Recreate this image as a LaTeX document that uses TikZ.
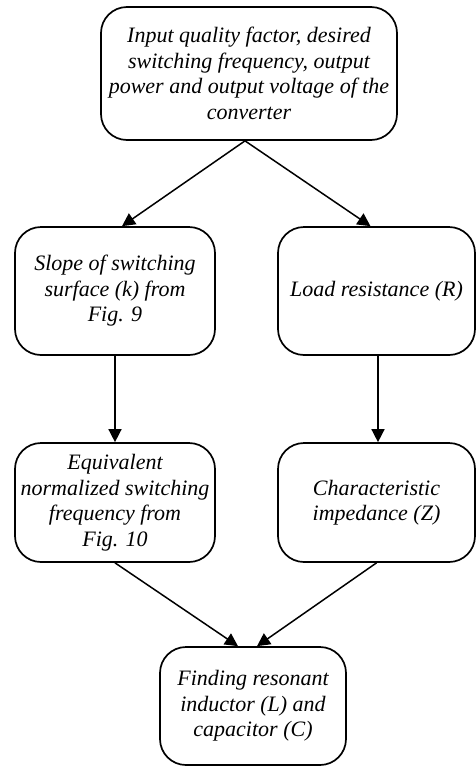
\documentclass[tikz,border=0pt]{standalone}
\usepackage{fontspec}
\setmainfont{Liberation Serif}
\usetikzlibrary{arrows.meta}

\begin{document}
\begin{tikzpicture}[x=1pt,y=1pt,
  box/.style={draw, line width=1.7pt, rounded corners=26pt, align=center,
    inner sep=2pt, font=\fontsize{22}{25.5}\selectfont\itshape},
  arr/.style={-{Triangle[length=13pt,width=13pt]}, line width=1.5pt}]
\useasboundingbox (0,0) rectangle (476,-766);

% boxes
\node[box, minimum width=296, minimum height=133] (input) at (249,-73.5)
  {Input quality factor, desired\\switching frequency, output\\power and output voltage of the\\converter};
\node[box, minimum width=200, minimum height=128] (slope) at (115,-291)
  {Slope of switching\\surface (k) from\\Fig. 9};
\node[box, minimum width=197, minimum height=128] (load) at (376.5,-291)
  {Load resistance (R)};
\node[box, minimum width=200, minimum height=119] (freq) at (115,-502.5)
  {Equivalent\\normalized switching\\frequency from\\Fig. 10};
\node[box, minimum width=197, minimum height=119] (imped) at (376.5,-502.5)
  {Characteristic\\impedance (Z)};
\node[box, minimum width=186, minimum height=118] (find) at (253,-706)
  {Finding resonant\\inductor (L) and\\capacitor (C)};

% connectors
\draw[arr] ([xshift=-4pt]input.south) -- ([xshift=7pt]slope.north);
\draw[arr] ([xshift=-4pt]input.south) -- ([xshift=-6pt]load.north);
\draw[arr] (slope) -- (freq);
\draw[arr] ([xshift=1.5pt]load.south) -- ([xshift=1.5pt]imped.north);
\draw[arr] (freq.south) -- ([xshift=-15pt]find.north);
\draw[arr] (imped.south) -- ([xshift=4pt]find.north);
\end{tikzpicture}
\end{document}
